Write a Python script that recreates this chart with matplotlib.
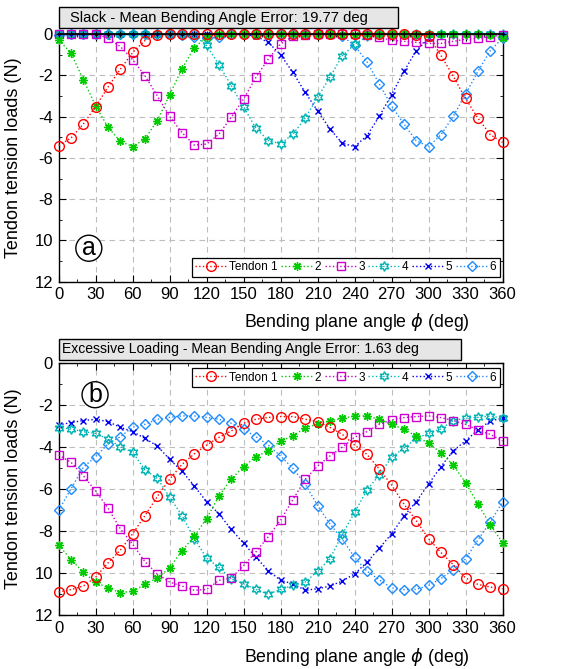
import numpy as np
import matplotlib.pyplot as plt
from matplotlib.patches import Rectangle

plt.rcParams['font.family'] = ['Liberation Sans', 'DejaVu Sans']
plt.rcParams['mathtext.fontset'] = 'dejavusans'

phi = np.arange(0, 361, 10)

# slack case (loads in N, plotted on an inverted axis)
t1_slack = [5.40, 5.04, 4.36, 3.51, 2.57, 1.70, 0.89, 0.31, 0.02, 0, 0, 0, 0, 0, 0, 0, 0, 0, 0,
            0, 0, 0, 0, 0, 0, 0, 0, 0, 0, 0.02, 0.1, 1.03, 2.04, 3.12, 4.07, 4.87, 5.25]
t2_slack = [0.27, 0.92, 2.21, 3.48, 4.51, 5.20, 5.45, 5.08, 4.19, 2.94, 1.68, 0.65, 0.15, 0, 0, 0, 0, 0, 0,
            0, 0, 0, 0, 0.05, 0.05, 0, 0, 0, 0, 0, 0, 0, 0, 0, 0, 0.05, 0.19]
t3_slack = [0, 0, 0, 0, 0.2, 0.6, 1.24, 2.02, 2.99, 3.99, 4.77, 5.38, 5.33, 4.85, 4.03, 3.14, 2.10, 1.21, 0.48,
            0.1, 0.02, 0, 0, 0, 0, 0.05, 0.15, 0.3, 0.35, 0.4, 0.45, 0.45, 0.35, 0.25, 0.2, 0.12, 0.05]
t4_slack = [0, 0, 0, 0, 0, 0, 0, 0, 0, 0, 0, 0.05, 0.55, 1.49, 2.5, 3.54, 4.56, 5.16, 5.32,
            4.85, 4.07, 3.06, 2.09, 1.05, 0.5, 0.1, 0, 0, 0, 0, 0, 0, 0, 0, 0, 0, 0]
t5_slack = [0, 0, 0, 0, 0, 0, 0, 0, 0, 0, 0, 0, 0, 0, 0, 0, 0.1, 0.4, 1.0,
            1.86, 2.83, 3.72, 4.59, 5.29, 5.45, 4.93, 3.99, 2.94, 1.81, 0.81, 0.2, 0, 0, 0, 0, 0, 0]
t6_slack = [0.02, 0, 0, 0, 0, 0, 0, 0, 0, 0, 0.05, 0.15, 0.2, 0.15, 0, 0, 0, 0, 0,
            0, 0, 0, 0, 0.1, 0.55, 1.33, 2.41, 3.48, 4.36, 5.17, 5.45, 4.88, 3.99, 2.91, 1.81, 0.81, 0.19]

# excessive loading case
t1_exc = [10.9, 10.79, 10.62, 10.2, 9.52, 8.91, 8.13, 7.26, 6.35, 5.53, 4.82, 4.32, 3.9, 3.53, 3.23, 2.86, 2.67, 2.58, 2.54,
          2.54, 2.67, 2.78, 3.05, 3.39, 3.9, 4.34, 5.04, 5.8, 6.71, 7.5, 8.36, 9.02, 9.6, 10.23, 10.54, 10.67, 10.75]
t2_exc = [8.66, 9.36, 9.96, 10.43, 10.71, 10.93, 10.87, 10.54, 10.23, 9.76, 8.94, 8.24, 7.4, 6.33, 5.52, 4.93, 4.45, 4.17, 3.7,
          3.47, 3.07, 2.91, 2.75, 2.62, 2.51, 2.51, 2.67, 2.91, 3.15, 3.47, 3.82, 4.26, 4.85, 5.69, 6.7, 7.69, 8.55]
t3_exc = [4.37, 4.72, 5.36, 6.09, 6.9, 7.89, 8.63, 9.46, 10.04, 10.43, 10.62, 10.82, 10.78, 10.35, 10.23, 9.65, 8.99, 8.27, 7.48,
          6.5, 5.53, 4.9, 4.42, 4.0, 3.53, 3.26, 2.91, 2.7, 2.59, 2.54, 2.51, 2.59, 2.73, 2.91, 3.18, 3.39, 3.7]
t4_exc = [3.07, 3.13, 3.26, 3.34, 3.62, 3.97, 4.24, 5.09, 5.48, 6.38, 7.26, 8.36, 9.29, 9.73, 10.27, 10.51, 10.78, 11.01, 10.78,
          10.59, 10.43, 9.91, 9.33, 8.16, 7.11, 6.05, 5.33, 4.48, 4.05, 3.58, 3.34, 3.13, 2.73, 2.62, 2.58, 2.51, 2.62]
t5_exc = [2.94, 2.83, 2.73, 2.67, 2.78, 3.05, 3.26, 3.58, 3.94, 4.58, 5.14, 5.85, 6.6, 7.18, 7.92, 8.58, 9.25, 9.88, 10.35,
          10.51, 10.82, 10.75, 10.62, 10.38, 10.04, 9.49, 8.82, 8.13, 7.29, 6.6, 5.76, 4.93, 4.17, 3.7, 3.18, 2.75, 2.62]
t6_exc = [7.01, 5.99, 4.96, 4.45, 3.85, 3.5, 3.05, 2.91, 2.67, 2.58, 2.51, 2.51, 2.58, 2.67, 2.86, 3.15, 3.5, 3.9, 4.42,
          5.01, 5.76, 6.78, 7.65, 8.39, 9.25, 9.91, 10.32, 10.71, 10.79, 10.78, 10.59, 10.27, 9.84, 9.33, 8.42, 7.58, 6.62]

names = ['Tendon 1', '2', '3', '4', '5', '6']
colors = ['#ff0000', '#00cc00', '#cc00cc', '#00b4b4', '#0000ee', '#1e8cff']
markers = ['o', (8, 2, 0), 's', (6, 1, 0), 'x', 'D']
msizes = [7, 6, 6, 7, 5, 5.5]
yticks = [0, 2, 4, 6, 8, 10, 12]
yticklabels = ['0', '-2', '-4', '-6', '-8', '10', '12']
xticks = np.arange(0, 361, 30)

panels = [
    ('Slack - Mean Bending Angle Error: 19.77 deg', 'a',
     [t1_slack, t2_slack, t3_slack, t4_slack, t5_slack, t6_slack]),
    ('Excessive Loading - Mean Bending Angle Error: 1.63 deg', 'b',
     [t1_exc, t2_exc, t3_exc, t4_exc, t5_exc, t6_exc]),
]

fig = plt.figure(figsize=(5.64, 6.69), dpi=100)
axes_rects = [[0.104, 0.579, 0.787, 0.370], [0.104, 0.0807, 0.787, 0.3763]]
box_rects = [(0.1046, 0.958, 0.601, 0.0314), (0.1046, 0.462, 0.713, 0.0314)]
text_x = [0.124, 0.110]
text_size = [10.6, 10.1]
letter_pos = [(0.068, 0.135), (0.082, 0.875)]
label_y = [-0.118, -0.125]

for k, (title, letter, series) in enumerate(panels):
    ax = fig.add_axes(axes_rects[k])
    ax.grid(True, color='#bdbdbd', linestyle=(0, (5, 4)), linewidth=0.8)
    ax.set_axisbelow(True)
    if k == 0:
        ax.plot(phi, np.zeros_like(phi), color='k', lw=1.2, marker='+', ms=4, mew=0.8, zorder=4, clip_on=False)
    for i, vals in enumerate(series):
        filled = i == 1
        ax.plot(phi, vals, linestyle=':', lw=1.0, color=colors[i], marker=markers[i], ms=msizes[i],
                mfc=colors[i] if filled else 'none', mec=colors[i], mew=1.0,
                label=names[i], zorder=3.6 - 0.1 * i, clip_on=False)
    ax.set_xlim(0, 360)
    ax.set_ylim(12, 0)
    ax.set_xticks(xticks)
    ax.set_xticks(np.arange(0, 361, 15), minor=True)
    ax.set_yticks(yticks)
    ax.set_yticklabels(yticklabels)
    ax.set_yticks(np.arange(0, 13, 1), minor=True)
    ax.tick_params(which='both', direction='in', top=True, right=True, labelsize=12, pad=4)
    ax.tick_params(which='major', length=5)
    ax.tick_params(which='minor', length=2.5)
    for s in ax.spines.values():
        s.set_linewidth(1.0)
    ax.set_xlabel(r'Bending plane angle $\phi$ (deg)', fontsize=12.8)
    ax.xaxis.set_label_coords(0.672, label_y[k])
    ax.set_ylabel('Tendon tension loads (N)', fontsize=13)
    ax.yaxis.set_label_coords(-0.083, 0.5)
    if k == 0:
        leg = ax.legend(loc='lower right', bbox_to_anchor=(0.994, 0.019), ncol=6, fontsize=8.5,
                        handlelength=2.7, handletextpad=0.15, columnspacing=0.3, borderpad=0.3,
                        borderaxespad=0, fancybox=False, framealpha=1)
    else:
        leg = ax.legend(loc='upper right', bbox_to_anchor=(0.994, 0.981), ncol=6, fontsize=8.5,
                        handlelength=2.7, handletextpad=0.15, columnspacing=0.3, borderpad=0.3,
                        borderaxespad=0, fancybox=False, framealpha=1)
    leg.get_frame().set_edgecolor('k')
    leg.get_frame().set_linewidth(0.9)
    ax.text(letter_pos[k][0], letter_pos[k][1], letter, transform=ax.transAxes, fontsize=18,
            ha='center', va='center',
            bbox=dict(boxstyle='circle,pad=0.04', fc='white', ec='k', lw=1.0))

    bx, by, bw, bh = box_rects[k]
    fig.patches.append(Rectangle((bx, by), bw, bh, transform=fig.transFigure,
                                 facecolor='#e6e6e6', edgecolor='k', lw=1.0))
    fig.text(text_x[k], by + bh / 2, title, fontsize=text_size[k], ha='left', va='center')

plt.savefig('out.png', dpi=100)
